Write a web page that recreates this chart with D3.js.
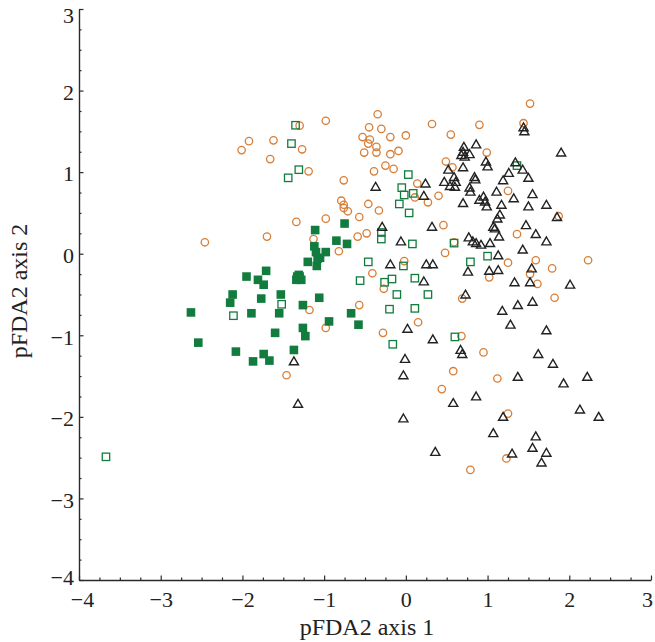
<!DOCTYPE html>
<html><head><meta charset="utf-8">
<script src="https://cdn.jsdelivr.net/npm/d3@7"></script>
<style>html,body{margin:0;padding:0;background:#fff}svg{display:block}</style>
</head><body><div id="chart"></div>
<script>
// Data (pFDA2 axis 1, pFDA2 axis 2)
const triangles = [
[-1.37,-1.32],[-1.32,-1.84],
[-0.37,0.82],[0.24,0.86],[0.22,0.71],[-0.29,0.33],[0.32,0.33],[-0.06,0.15],[-0.19,-0.13],[0.25,-0.13],[0.33,-0.13],[0.22,-0.34],
[0.71,1.31],[0.86,1.34],[0.68,1.21],[0.72,1.19],[0.78,1.22],[0.70,1.25],[0.98,1.13],[1.00,1.07],[0.70,1.06],[0.52,1.03],
[0.47,0.88],[0.59,0.94],[0.61,0.88],[0.54,0.83],[0.60,0.82],[0.84,0.94],[0.85,0.91],[0.78,0.81],[0.79,0.76],[1.19,0.90],[1.26,0.99],
[1.11,0.76],[0.90,0.66],[0.95,0.70],[0.97,0.64],[0.99,0.58],[0.70,0.62],[1.32,0.68],[1.17,0.60],[1.15,0.48],[1.12,0.43],[1.07,0.33],[1.09,0.31],
[1.14,0.21],[0.77,0.20],[0.82,0.15],[0.86,0.13],[0.92,0.11],[1.03,0.13],[1.13,-0.02],
[1.44,1.55],[1.45,1.50],[1.90,1.24],[1.34,1.12],[1.43,1.03],[1.50,0.93],[1.55,0.73],[1.50,0.58],[1.72,0.60],[1.85,0.45],[1.47,0.35],
[1.59,0.24],[1.72,0.15],[1.43,0.05],[1.54,-0.18],[1.02,-0.21],[1.13,-0.20],[0.76,-0.22],[1.33,-0.35],[1.52,-0.35],[2.01,-0.38],
[0.73,-0.50],[0.02,-0.92],[0.33,-1.05],[0.67,-1.18],[0.69,-1.23],[-0.01,-1.29],[-0.03,-1.49],[0.58,-1.83],[0.86,-1.75],[-0.03,-2.02],[0.36,-2.43],
[1.18,-0.70],[1.37,-0.63],[1.55,-0.59],[1.28,-0.87],[1.72,-0.94],[1.62,-1.23],[1.80,-1.35],[1.37,-1.51],[1.93,-1.59],[2.22,-1.51],
[1.19,-2.00],[2.13,-1.91],[2.36,-2.00],[1.07,-2.20],[1.59,-2.24],[1.55,-2.38],[1.72,-2.44],[1.30,-2.45],[1.66,-2.56]
];
const circles = [
[-0.98,1.63],[-1.30,1.57],[-1.92,1.38],[-2.01,1.27],[-1.62,1.39],[-1.27,1.28],[-1.66,1.16],[-1.19,1.01],[-1.34,0.39],[-0.98,0.43],
[-1.70,0.21],[-2.46,0.14],[-1.13,0.18],[-1.18,-0.69],[-0.98,-0.91],[-1.46,-1.49],
[-0.345,1.71],[-0.45,1.55],[-0.30,1.53],[-0.53,1.43],[-0.44,1.40],[-0.46,1.35],[-0.36,1.31],[-0.19,1.43],[0.00,1.45],[0.32,1.59],[0.55,1.46],
[-0.51,1.24],[-0.36,1.24],[-0.19,1.22],[-0.09,1.26],[-0.39,1.01],[-0.25,1.08],[-0.15,1.04],[0.49,1.13],[0.57,1.06],[-0.76,0.90],[0.14,0.86],
[-0.79,0.65],[-0.76,0.60],[-0.76,0.56],[-0.46,0.61],[-0.33,0.53],[0.11,0.69],[0.27,0.63],[0.40,0.71],[-0.57,0.45],[-0.71,0.52],[0.46,0.35],
[-0.59,0.21],[-0.48,0.25],[-0.82,0.03],[0.48,0.01],[0.59,0.14],[-0.02,-0.09],[-0.41,-0.24],
[-0.57,-0.63],[-0.27,-0.43],[-0.28,-0.97],[0.15,-0.84],[0.69,-0.55],[0.68,-1.01],[0.58,-1.44],[0.44,-1.66],[0.79,-2.65],
[1.52,1.84],[0.90,1.58],[1.44,1.60],[0.99,1.24],[1.25,0.77],[1.87,0.46],[1.36,0.24],[1.59,-0.08],[1.25,-0.11],[1.79,-0.18],[2.23,-0.08],
[1.02,-0.29],[1.52,-0.25],[1.61,-0.37],[1.82,-0.54],[0.95,-1.21],[1.12,-1.53],[1.25,-1.96],[1.23,-2.51]
];
const openSquares = [
[-1.35,1.575],[-1.40,1.35],[-1.31,1.03],[-1.44,0.93],[-1.52,-0.62],[-2.11,-0.76],[0.03,0.97],[-0.05,0.81],[0.09,0.74],[-0.02,0.72],
[-0.08,0.61],[0.04,0.50],[-0.30,0.26],[-0.30,0.18],[0.08,0.12],[0.59,0.13],[-0.46,-0.10],[-0.03,-0.15],[0.79,-0.10],[-0.56,-0.33],
[-0.26,-0.35],[-0.17,-0.31],[0.11,-0.30],[-0.11,-0.50],[0.27,-0.50],[-0.20,-0.68],[0.11,-0.67],[-0.16,-1.11],[0.60,-1.02],[1.36,1.08],
[1.00,-0.03],[-3.67,-2.49]
];
const filledSquares = [
[-1.11,0.29],[-1.12,0.09],[-1.10,0.02],[-0.98,0.02],[-1.05,-0.05],[-1.20,-0.10],[-1.09,-0.15],[-1.08,-0.06],[-1.31,-0.26],[-1.34,-0.32],
[-1.28,-0.32],[-1.30,-0.28],[-1.33,-0.28],[-1.71,-0.21],[-1.95,-0.28],[-1.81,-0.32],[-1.74,-0.38],[-2.12,-0.50],[-2.15,-0.60],[-1.77,-0.55],
[-1.53,-0.50],[-1.26,-0.63],[-1.06,-0.54],[-2.63,-0.72],[-1.89,-0.73],[-1.55,-0.73],[-0.94,-0.83],[-1.26,-0.91],[-1.23,-1.01],[-1.60,-0.97],
[-2.54,-1.09],[-2.08,-1.20],[-1.74,-1.23],[-1.87,-1.32],[-1.67,-1.31],[-1.37,-1.18],[-0.75,0.37],[-0.85,0.16],[-0.72,0.12],[-0.67,-0.73],[-0.58,-0.87]
];
const xTicks = [-4,-3,-2,-1,0,1,2,3];
const yTicks = [-4,-3,-2,-1,0,1,2,3];
const xTitle = "pFDA2 axis 1";
const yTitle = "pFDA2 axis 2";

const W = 655, H = 642;
const m = {left:79, top:9, right:4, bottom:62};
const svg = d3.select("#chart").append("svg").attr("width",W).attr("height",H);
const x = d3.scaleLinear().domain([-4,3]).range([m.left, W-m.right]);
const y = d3.scaleLinear().domain([-4,3]).range([H-m.bottom, m.top]);
const fmt = d => d < 0 ? "\u2212" + Math.abs(d) : String(d);
const minor = d3.range(-4,3.001,0.25).filter(v => Math.abs(v-Math.round(v))>1e-6);
const font = "'Liberation Serif','Times New Roman',serif";
const axCol = "#2a2a2a";

// minor ticks
svg.append("g").attr("transform",`translate(0,${y(-4)})`)
  .call(d3.axisBottom(x).tickValues(minor).tickSize(-2.5).tickSizeOuter(0).tickFormat(""))
  .call(g=>g.select(".domain").remove());
svg.append("g").attr("transform",`translate(${x(-4)},0)`)
  .call(d3.axisLeft(y).tickValues(minor).tickSize(-2.5).tickSizeOuter(0).tickFormat(""))
  .call(g=>g.select(".domain").remove());

const gx = svg.append("g").attr("transform",`translate(0,${y(-4)})`)
  .call(d3.axisBottom(x).tickValues(xTicks).tickSize(-4.5).tickSizeOuter(0).tickPadding(11).tickFormat(fmt));
const gy = svg.append("g").attr("transform",`translate(${x(-4)},0)`)
  .call(d3.axisLeft(y).tickValues(yTicks).tickSize(-4.5).tickSizeOuter(0).tickPadding(5).tickFormat(fmt));
svg.selectAll(".tick line").attr("stroke",axCol).attr("stroke-width",1.2);
svg.selectAll(".domain").attr("stroke",axCol).attr("stroke-width",1.4);
svg.selectAll(".tick text").attr("font-family",font).attr("font-size",22).attr("fill","#222");
gx.selectAll(".tick text").attr("dy","0.71em")
  .attr("dx", d => d === 3 ? -4 : (d === -4 ? 3 : 0));
gy.selectAll(".tick text").attr("dy", d => d === 3 ? "0.6em" : (d === -4 ? "0.2em" : "0.4em"));

svg.append("text").attr("x",367).attr("y",635).attr("text-anchor","middle")
  .attr("font-family",font).attr("font-size",24).attr("fill","#222").text(xTitle);
svg.append("text").attr("transform",`translate(27,291) rotate(-90)`).attr("text-anchor","middle")
  .attr("font-family",font).attr("font-size",24).attr("fill","#222").text(yTitle);

const green = "#127c3e", orange = "#d87e36", black = "#222";
const pts = svg.append("g");
// circles
pts.selectAll("circle.c").data(circles).join("circle").attr("class","c")
  .attr("cx",d=>x(d[0])).attr("cy",d=>y(d[1])).attr("r",3.7)
  .attr("fill","none").attr("stroke",orange).attr("stroke-width",1.3);
// open squares
const os = 7.4;
pts.selectAll("rect.o").data(openSquares).join("rect").attr("class","o")
  .attr("x",d=>x(d[0])-os/2).attr("y",d=>y(d[1])-os/2).attr("width",os).attr("height",os)
  .attr("fill","none").attr("stroke",green).attr("stroke-width",1.3);
// filled squares
const fs = 8.6;
pts.selectAll("rect.f").data(filledSquares).join("rect").attr("class","f")
  .attr("x",d=>x(d[0])-fs/2).attr("y",d=>y(d[1])-fs/2).attr("width",fs).attr("height",fs)
  .attr("fill",green);
// triangles
const tri = d3.symbol().type(d3.symbolTriangle).size(36);
pts.selectAll("path.t").data(triangles).join("path").attr("class","t")
  .attr("transform",d=>`translate(${x(d[0])},${y(d[1])+0.8})`).attr("d",tri)
  .attr("fill","none").attr("stroke",black).attr("stroke-width",1.4);
</script></body></html>
